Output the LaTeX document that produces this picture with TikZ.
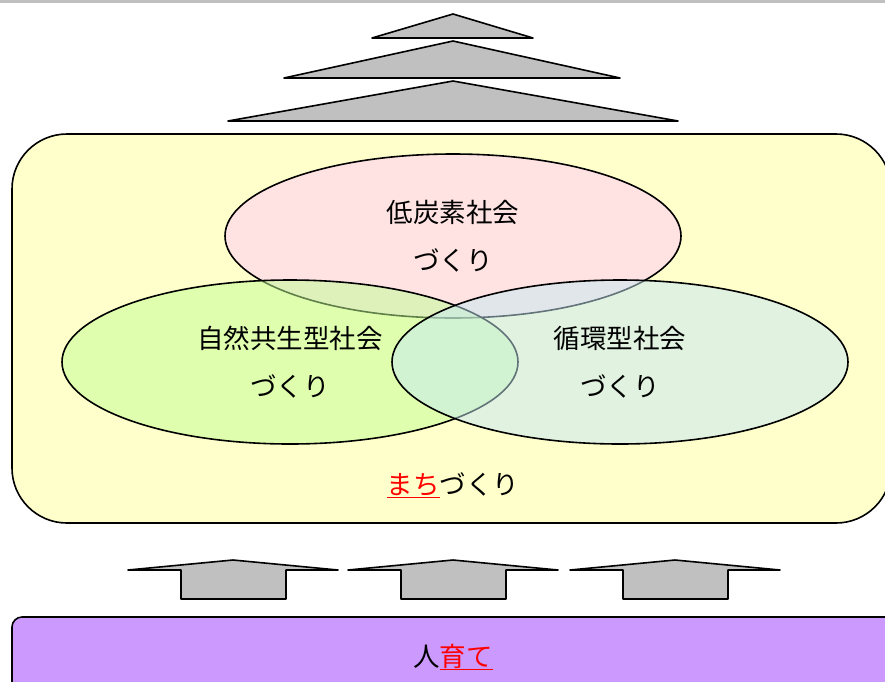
\documentclass[tikz,border=0pt]{standalone}
\usepackage{fontspec}
\setmainfont{Noto Sans CJK JP}
\definecolor{cgray}{HTML}{C0C0C0}
\definecolor{cframe}{HTML}{FFFFCC}
\definecolor{cpink}{HTML}{FFE3E3}
\definecolor{cgreen}{HTML}{C1FF94}
\definecolor{cteal}{HTML}{C5E9F4}
\definecolor{cpurple}{HTML}{CC99FF}
\begin{document}
\begin{tikzpicture}[x=1pt,y=-1pt,line join=round,
  edge/.style={draw=black,line width=1.6pt},
  roof/.style={edge,fill=cgray},
  upbox/.style={edge,fill=cgray},
  circle area/.style={edge,fill opacity=0.5},
  lbl/.style={font=\fontsize{26.5}{30}\selectfont,inner sep=0pt}]

\clip (0,0) rectangle (885,681);
\fill[cgray] (0,0) rectangle (885,3);

% roof
\draw[roof] (372,38) -- (453,14) -- (533,38) -- cycle;
\draw[roof] (284,78) -- (453,41) -- (620,78) -- cycle;
\draw[roof] (228,121) -- (453,81) -- (678,121) -- cycle;

% town frame
\draw[edge,fill=cframe,rounded corners=55pt] (12,134) rectangle (891,523);

% three societies
\draw[edge,fill=cpink] (453,236) ellipse [x radius=228, y radius=82];
\draw[circle area,fill=cgreen] (290,362) ellipse [x radius=228, y radius=82];
\draw[circle area,fill=cteal] (620,362) ellipse [x radius=228, y radius=82];

\node[lbl] (lowc) at (453,212) {低炭素社会};
\node[lbl] (lowc2) at (453,260) {づくり};
\node[lbl] (nat) at (290,338) {自然共生型社会};
\node[lbl] (nat2) at (290,386) {づくり};
\node[lbl] (cyc) at (620,338) {循環型社会};
\node[lbl] (cyc2) at (620,386) {づくり};
\node[lbl] (town) at (453,485) {\textcolor{red}{\underline{まち}}づくり};

% arrows up
\foreach \cx in {233,453,675}{
  \draw[upbox] (\cx-105,570) -- (\cx,560) -- (\cx+105,570) -- (\cx+53,570)
    -- (\cx+53,599) -- (\cx-52,599) -- (\cx-52,570) -- cycle;
}

% people
\draw[edge,fill=cpurple,rounded corners=10pt] (12,617) rectangle (900,700);
\node[lbl] (people) at (453,657) {人\textcolor{red}{\underline{育て}}};

\end{tikzpicture}
\end{document}
